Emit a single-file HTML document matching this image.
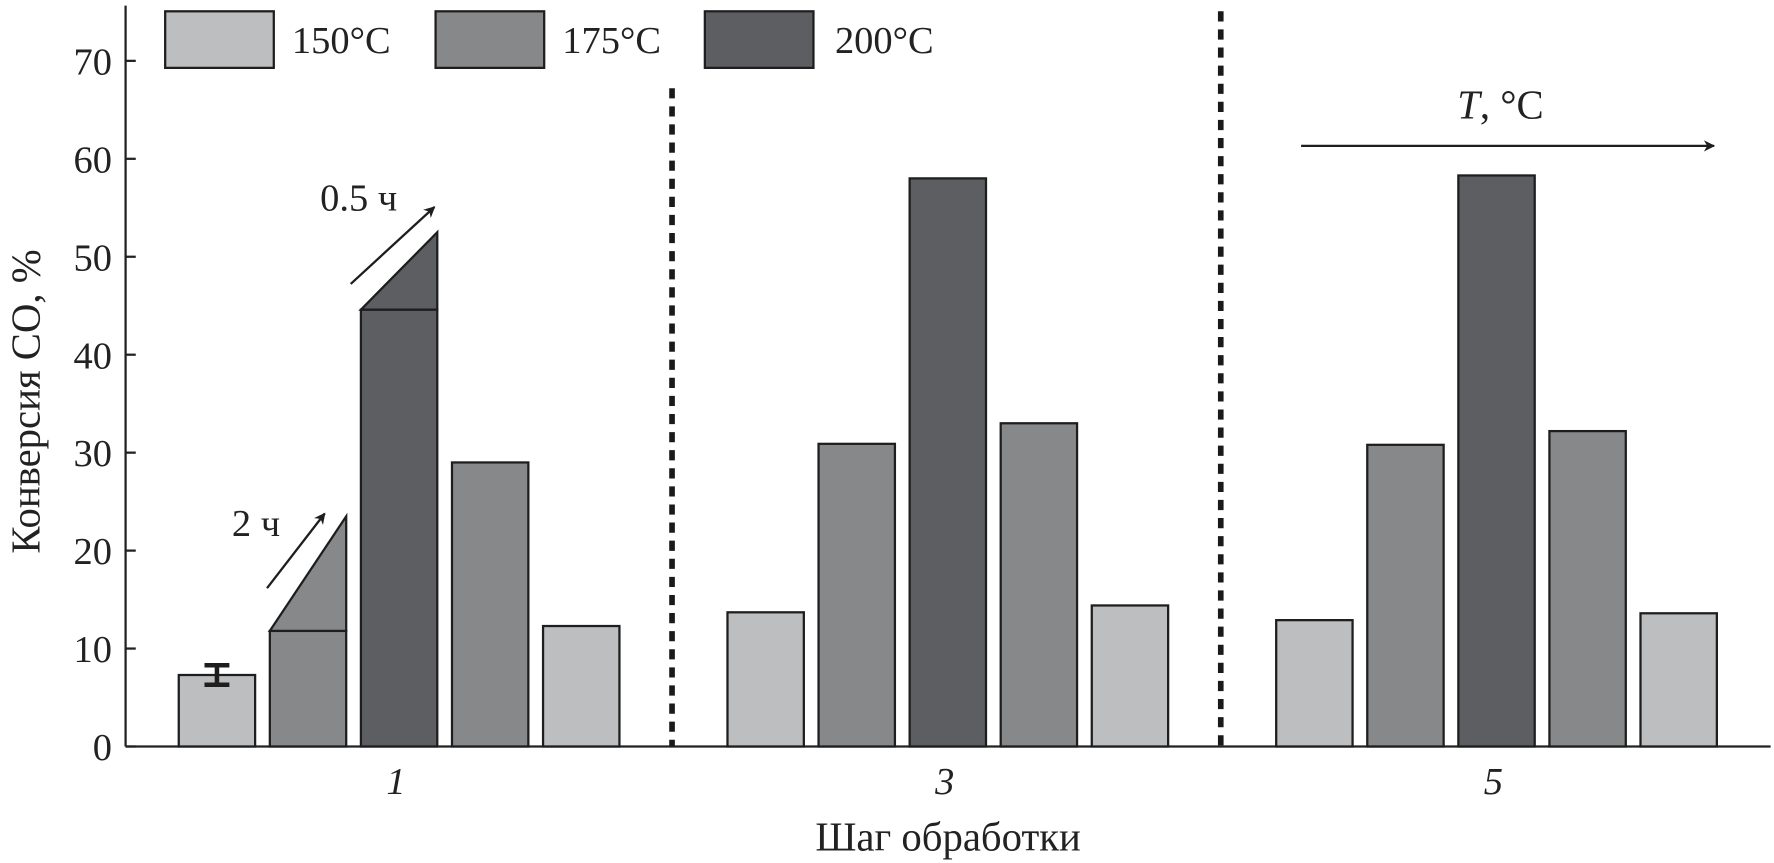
<!DOCTYPE html>
<html><head><meta charset="utf-8"><style>
html,body{margin:0;padding:0;background:#fff}
svg{display:block}
text{font-family:"Liberation Serif",serif;fill:#222}
</style></head><body>
<svg id="chart" width="1774" height="863" viewBox="0 0 1568 763" preserveAspectRatio="none" xmlns="http://www.w3.org/2000/svg"></svg>
<script>
const groups = ['1','3','5'];
const barTemps = ['150','175','200','175','150'];
const group1Values = [7.3, 11.8, 44.6, 29.0, 12.3];
const group3Values = [13.7, 30.9, 58.0, 33.0, 14.4];
const group5Values = [12.9, 30.8, 58.3, 32.2, 13.6];
const triangleTops = [null, 23.5, 52.5, null, null];
const errorLow = 6.3, errorHigh = 8.3;
const yTicks = [0,10,20,30,40,50,60,70];

const svg = document.getElementById('chart');
const NS = 'http://www.w3.org/2000/svg';
const colors = {'150':'#bdbec0','175':'#87888a','200':'#5d5e61'};
const X0 = 111, XEND = 1565, Y0 = 660, PER = 86.6/10;
const y = v => Y0 - v*PER;
const groupStart = [158, 643, 1128], barStep = 80.5, barW = 67.5, groupCenter = [350, 835, 1320];
const bx = (g,i) => groupStart[g] + i*barStep;
function el(tag, attrs, txt){const e=document.createElementNS(NS,tag);for(const k in attrs)e.setAttribute(k,attrs[k]);if(txt!==undefined)e.textContent=txt;svg.appendChild(e);return e;}

let a = el('line',{x1:X0,y1:5,x2:X0,y2:Y0,stroke:'#222','stroke-width':2});


a = el('line',{x1:X0,y1:Y0,x2:XEND,y2:Y0,stroke:'#222','stroke-width':2});


yTicks.forEach(t=>{
  const l = el('line',{x1:X0,y1:y(t),x2:X0+9,y2:y(t),stroke:'#222','stroke-width':2});
  
  
  const tx = el('text',{x:X0-12,y:y(t)+12,'text-anchor':'end','font-size':34},String(t));
  
  
});
let t = el('text',{x:0,y:0,'font-size':36,'text-anchor':'middle',transform:'translate(35,355) rotate(-90)'},'Конверсия CO, %');


t = el('text',{x:838,y:752,'font-size':36,'text-anchor':'middle'},'Шаг обработки');


groups.forEach((g,gi)=>{
  const tx = el('text',{x:groupCenter[gi],y:702,'font-size':34,'text-anchor':'middle','font-style':'italic'},g);
  
  
});

[[594,78],[1079,10]].forEach(([x,top])=>{
  const d = el('line',{x1:x,y1:top,x2:x,y2:Y0,stroke:'#1a1a1a','stroke-width':5,'stroke-dasharray':'9 7'});
  
  
});

[group1Values, group3Values, group5Values].forEach((vals,gi)=>{
  vals.forEach((v,i)=>{
    const x = bx(gi,i);
    const r = el('rect',{x:x,y:y(v),width:barW,height:Y0-y(v),fill:colors[barTemps[i]],stroke:'#1e1e1e','stroke-width':2});
    
    
    if(gi===0 && triangleTops[i]!==null){
      const p = el('polygon',{points:`${x},${y(v)} ${x+barW},${y(triangleTops[i])} ${x+barW},${y(v)}`,fill:colors[barTemps[i]],stroke:'#1e1e1e','stroke-width':2});
      
      
    }
  });
});
const ex = bx(0,0)+barW/2;
[{x1:ex,y1:y(errorLow),x2:ex,y2:y(errorHigh)},{x1:ex-11,y1:y(errorLow),x2:ex+11,y2:y(errorLow)},{x1:ex-11,y1:y(errorHigh),x2:ex+11,y2:y(errorHigh)}].forEach(at=>{
  at.stroke='#1e1e1e';at['stroke-width']=4;
  const l = el('line',at);
  
  
});

const defs = el('defs',{});
const m = document.createElementNS(NS,'marker');
m.setAttribute('id','ah');m.setAttribute('viewBox','0 0 10 10');m.setAttribute('refX','9');m.setAttribute('refY','5');
m.setAttribute('markerWidth','7');m.setAttribute('markerHeight','5');m.setAttribute('orient','auto');
const mp = document.createElementNS(NS,'path');mp.setAttribute('d','M0,0 L10,5 L0,10 L3,5 z');mp.setAttribute('fill','#1e1e1e');
m.appendChild(mp);defs.appendChild(m);
[[236,520,287,454,'arrow-2h'],[310,251,384,183,'arrow-05h'],[1150,129,1515,129,'arrow-temperature']].forEach(([x1,y1,x2,y2,n])=>{
  const l = el('line',{x1,y1,x2,y2,stroke:'#1e1e1e','stroke-width':2,'marker-end':'url(#ah)'});
  
  
});
t = el('text',{x:205,y:474,'font-size':34},'2 ч');


t = el('text',{x:283,y:186,'font-size':34},'0.5 ч');


t = el('text',{x:1288,y:105,'font-size':36});
t.innerHTML='<tspan font-style="italic">T</tspan>, °C';



[[146,258,'150'],[385,497,'175'],[623,738,'200']].forEach(([bxp,tx,k])=>{
  const r = el('rect',{x:bxp,y:10,width:96,height:50,fill:colors[k],stroke:'#1e1e1e','stroke-width':2});
  
  
  const tt = el('text',{x:tx,y:47,'font-size':34},k+'°C');
  
  
});
</script>
</body></html>
